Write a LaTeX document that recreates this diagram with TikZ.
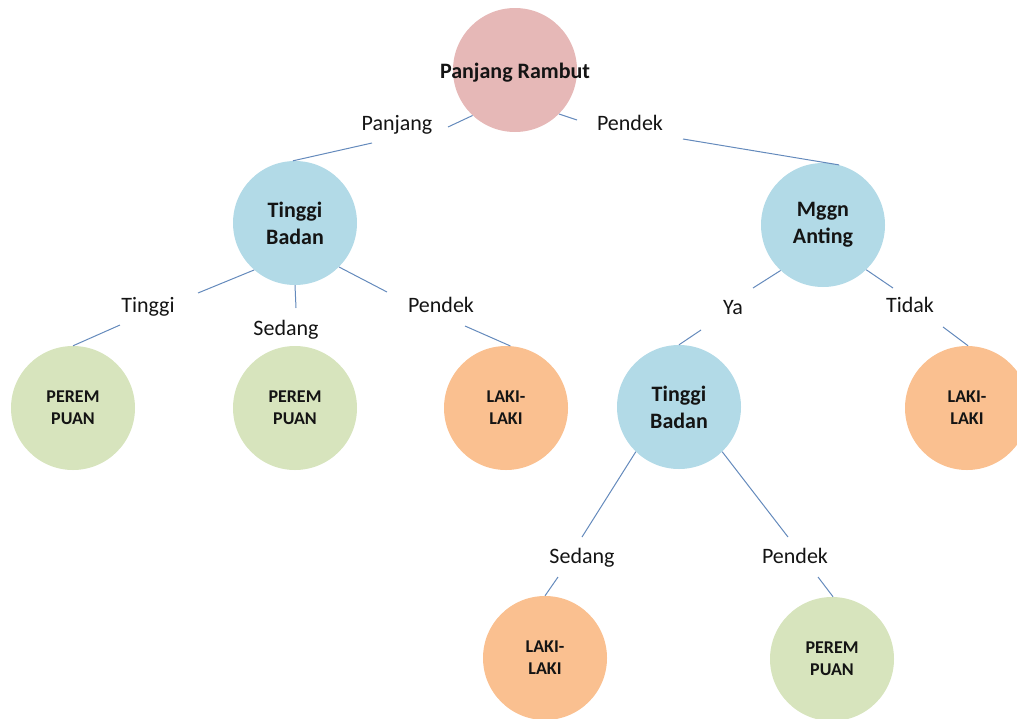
\documentclass[tikz,border=0pt]{standalone}
\usepackage{fontspec}
\setmainfont{Carlito}
\usetikzlibrary{calc}
\definecolor{rootpink}{RGB}{230,184,183}
\definecolor{splitblue}{RGB}{178,218,231}
\definecolor{leafgreen}{RGB}{215,228,189}
\definecolor{leaforange}{RGB}{250,192,144}
\definecolor{linkblue}{RGB}{100,138,188}
\definecolor{inktext}{RGB}{20,20,20}

\begin{document}
\begin{tikzpicture}[x=1pt,y=-1pt,
  bubble/.style={circle, minimum size=124pt, inner sep=0pt, text=inktext, align=center},
  rootnode/.style={bubble, fill=rootpink, font=\fontsize{22}{27}\selectfont\bfseries},
  testnode/.style={bubble, fill=splitblue, font=\fontsize{22}{27}\selectfont\bfseries},
  femleaf/.style={bubble, fill=leafgreen, font=\fontsize{18}{22}\selectfont\bfseries},
  maleleaf/.style={bubble, fill=leaforange, font=\fontsize{18}{22}\selectfont\bfseries},
  branch/.style={inner sep=0pt, text=inktext, font=\fontsize{22}{26}\selectfont,
                 text height=15pt, text depth=5pt},
  link/.style={draw=linkblue, line width=1pt}]

\useasboundingbox (0,0) rectangle (1017,718);
\clip (0,0) rectangle (1017,718);

% decision nodes (root title is wider than its circle, so it gets a zero-width box)
\node[rootnode] (root) at (515,70)
  {\raisebox{-3pt}[\height][\depth]{\makebox[0pt][c]{Panjang Rambut}}};
\node[testnode] (tbL)  at (295,223) {Tinggi\\Badan};
\node[testnode] (ant)  at (823,225) {Mggn\\Anting};
\node[testnode] (tbR)  at (679,407) {Tinggi\\Badan};

% outcomes
\node[femleaf]  (pp1) at (73,408)  {PEREM\\PUAN};
\node[femleaf]  (pp2) at (295,408) {PEREM\\PUAN};
\node[maleleaf] (ll1) at (506,408) {LAKI-\\LAKI};
\node[maleleaf] (ll2) at (967,408) {LAKI-\\LAKI};
\node[maleleaf] (ll3) at (545,658) {LAKI-\\LAKI};
\node[femleaf]  (pp3) at (832,659) {PEREM\\PUAN};

% branch labels
\node[branch] (bPanjang) at (397,125) {Panjang};
\node[branch] (bPendekA) at (630,125) {Pendek};
\node[branch] (bTinggi)  at (148,307) {Tinggi};
\node[branch] (bSedangA) at (286,330) {Sedang};
\node[branch] (bPendekB) at (441,307) {Pendek};
\node[branch] (bYa)      at (733,309) {Ya};
\node[branch] (bTidak)   at (910,307) {Tidak};
\node[branch] (bSedangB) at (582,558) {Sedang};
\node[branch] (bPendekC) at (795,558) {Pendek};

% connectors: node -> label -> node
\draw[link] (root.227) -- ($(bPanjang)+(51,2)$);
\draw[link] ($(bPanjang)+(-25,18)$) -- (tbL.92);
\draw[link] (root.315) -- ($(bPendekA)+(-53,-5)$);
\draw[link] ($(bPendekA)+(53,14)$) -- (ant.75);

\draw[link] (tbL.229) -- ($(bTinggi)+(50,-14)$);
\draw[link] ($(bTinggi)+(-28,18)$) -- (pp1.90);
\draw[link] (tbL.270) -- ($(bSedangA)+(10,-22)$);
\draw[link] (tbL.315) -- ($(bPendekB)+(-54,-15)$);
\draw[link] ($(bPendekB)+(24,19)$) -- (ll1.86);

\draw[link] (ant.227) -- ($(bYa)+(20,-21)$);
\draw[link] ($(bYa)+(-32,21)$) -- (tbR.90);
\draw[link] (ant.314) -- ($(bTidak)+(-17,-19)$);
\draw[link] ($(bTidak)+(33,20)$) -- (ll2.89);

\draw[link] (tbR.226) -- ($(bSedangB)+(0,-21)$);
\draw[link] ($(bSedangB)+(-24,19)$) -- (ll3.90);
\draw[link] (tbR.314) -- ($(bPendekC)+(-7,-21)$);
\draw[link] ($(bPendekC)+(23,19)$) -- (pp3.89);
\end{tikzpicture}
\end{document}
